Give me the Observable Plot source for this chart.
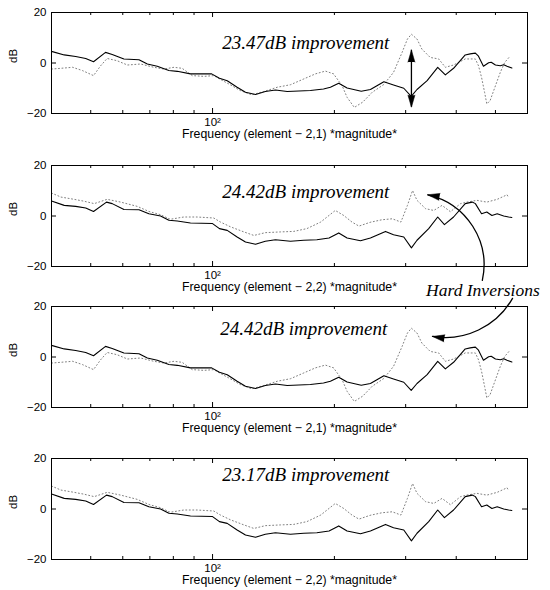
<!DOCTYPE html>
<html><head><meta charset="utf-8">
<script src="https://cdn.jsdelivr.net/npm/d3@7"></script>
<script src="https://cdn.jsdelivr.net/npm/@observablehq/plot@0.6"></script>
<style>
body{margin:0;background:#fff;}
#chart{position:relative;width:550px;height:590px;overflow:hidden;background:#fff;}
#chart svg{position:absolute;left:0;overflow:visible;}
</style></head><body><div id="chart"></div>
<script>
// ---- data: element (2,1) ----
const f21Solid = [40,43,45.9,48.6,50.8,54.4,56.5,60.4,65.8,69,73,78,81.8,88.2,99.5,104,108.7,115,120.6,127.7,135,143,152.9,163.4,174.5,188,195.5,205,215,233,245.5,265,280,296.8,309.6,320,339,360,376,394,421,433,446,454,467,481,488,500,514,524,534,549];
const db21Solid = [4.6,3.2,2.6,1.8,0.5,4.2,3.4,1.6,1.3,-0.4,-1.3,-3.0,-3.3,-4.3,-4.3,-6.0,-7.0,-9.6,-11.6,-12.5,-11.3,-10.7,-11.3,-11.1,-10.9,-10.3,-9.6,-8.0,-9.9,-11.2,-10.5,-7.4,-8.7,-10.0,-13.2,-10.5,-7.0,-1.7,-4.7,-2.1,3.2,3.6,3.9,2.7,-1.3,0.1,0.3,-0.8,-1.1,-0.7,-1.3,-2.0];
const f21Dotted = [40,42.2,45.1,47.7,50.8,52.9,54.9,58.1,61.6,66.4,71.6,75.8,80.3,84.1,89.1,95.2,100.7,104.6,110.8,117,125,133.9,144.5,155.8,168.1,179.6,190,199,209,215,224,235,248,265,280,294,303,310,320,329,345,362,376,394,421,446,454,462,470,476,485,500,514,527,540];
const db21Dotted = [-2.4,-2.1,-1.7,-3.0,-5.0,-1.1,1.8,0.9,-0.8,-0.4,-1.7,-2.4,-1.7,-2.1,-5.0,-5.3,-5.0,-6.5,-8.7,-10.9,-12.6,-11.3,-9.6,-8.6,-6.3,-4.3,-3.2,-4.3,-9.0,-13.6,-17.6,-15.5,-11.6,-8.5,-3.7,4.2,9.5,11.4,9.5,5.5,2.2,1.6,-1.7,-0.8,1.6,1.6,-1.1,-5.7,-11.6,-16.2,-14.9,-9.0,-3.7,0.2,2.2];
// ---- data: element (2,2) ----
const f22Solid = [40,43,45.9,48.6,50.8,54.7,56.5,60.4,65.8,69.6,74.4,78,81.8,88.2,100,104,108.7,115,120.6,127.7,135,143,155.8,168,181,194,205,215,232,245.5,267.5,280,296.8,310,320,342,360,374,394,421,438,446,462,476,490,505,524,539,549];
const db22Solid = [5.9,4.2,3.8,3.2,1.8,5.5,4.9,2.6,2.5,0.9,0,-1.7,-2.0,-2.8,-3.0,-5.0,-5.7,-8.3,-10.3,-11.2,-10.0,-9.4,-10.0,-9.6,-9.4,-8.7,-6.7,-8.7,-9.8,-8.7,-6.1,-7.4,-8.3,-12.6,-9.6,-5.0,-0.4,-3.4,-0.4,4.9,5.5,4.9,0.9,1.6,0.2,0.9,0,-0.4,-0.6];
const f22Dotted = [40,42.2,45.5,48,51,54.9,59.3,65.2,69.6,74.4,78.6,84.9,91.6,100.7,104.6,110.8,119.5,126.5,135,147.2,158.7,171,185,201,211,221,230,245,262,278,292,303,312,320,336,352,369,387,410,425,450,476,505,534,540];
const db22Dotted = [9.1,7.5,6.6,5.9,4.9,6.6,5.5,3.8,1.8,0.5,-1.3,-0.4,-0.4,-0.8,-2.4,-4.3,-6.3,-7.7,-6.6,-6.3,-6.1,-5.0,-2.4,2.2,0.2,-2.4,-4.0,-2.5,-1.5,-1.1,-2.4,4.2,10.1,6.2,2.9,2.2,4.2,1.7,4.9,5.5,6.2,5.5,6.6,8.4,7.1];

// ---- panel texts ----
const panelElements = ["2,1","2,2","2,1","2,2"];
const improvements = ["23.47dB improvement","24.42dB improvement","24.42dB improvement","23.17dB improvement"];
const improvementFreq = [170,170,168,170];
const improvementDb = [8,9.6,11,13.4];
const xDomain = [40,600];
const yDomain = [-20,20];
const xMinorTicks = [50,60,70,80,90,200,300,400,500];
const xMajorTicks = [100];
const xTickLabels = ["10²"];
const yTicks = [-20,0,20];
const yTickLabels = ["−20","0","20"];
const yLabel = "dB";

// ---- annotations ----
const gapArrow = {f: 310, top: 5.1, bottom: -17.5};
const inversionText = {text: "Hard Inversions", f: 337, db: -29.5};
const inversionArrows = [
  {f1: 464, db1: -25.5, f2: 340, db2: 8.4, bend: -45, rot: -80},
  {f1: 551, db1: -32.6, f2: 349.5, db2: -47.7, bend: 35, rot: -81}
];

// ---- layout ----
const svgTops = [0,153,294,446];
const W = 550, mL = 51, mR = 23, mT = 12, mB = 40, frameH = 101;
const H = mT + frameH + mB, frameW = W - mL - mR;
const sans = "Liberation Sans, Arial, Helvetica, sans-serif";
const serif = "Liberation Serif, Times New Roman, serif";

const series = {
  "2,1": {solid: f21Solid.map((f,i)=>({f, db: db21Solid[i]})), dotted: f21Dotted.map((f,i)=>({f, db: db21Dotted[i]}))},
  "2,2": {solid: f22Solid.map((f,i)=>({f, db: db22Solid[i]})), dotted: f22Dotted.map((f,i)=>({f, db: db22Dotted[i]}))}
};

const chart = document.getElementById("chart");
panelElements.forEach((el, p) => {
  const s = series[el];
  const marks = [
    Plot.line(s.dotted, {x: "f", y: "db", stroke: "#808080", strokeWidth: 1, strokeDasharray: "1,2.5"}),
    Plot.line(s.solid, {x: "f", y: "db", stroke: "black", strokeWidth: 1.1}),
    Plot.frame({stroke: "black", strokeWidth: 1}),
    // x ticks, inward, top and bottom
    Plot.ruleX(xMinorTicks, {x: d => d, insetTop: frameH - 3, stroke: "black"}),
    Plot.ruleX(xMinorTicks, {x: d => d, insetBottom: frameH - 3, stroke: "black"}),
    Plot.ruleX(xMajorTicks, {x: d => d, insetTop: frameH - 5, stroke: "black"}),
    Plot.ruleX(xMajorTicks, {x: d => d, insetBottom: frameH - 5, stroke: "black"}),
    // y ticks, inward, left and right
    Plot.ruleY(yTicks, {y: d => d, insetRight: frameW - 5, stroke: "black"}),
    Plot.ruleY(yTicks, {y: d => d, insetLeft: frameW - 5, stroke: "black"}),
    Plot.text(xMajorTicks, {x: d => d, text: (d,i) => xTickLabels[i], frameAnchor: "bottom", dy: 12, fontFamily: sans, fontSize: 11.5, fill: "black"}),
    Plot.text(yTicks, {y: d => d, text: (d,i) => yTickLabels[i], frameAnchor: "left", textAnchor: "end", dx: -5, fontFamily: sans, fontSize: 11.5, fill: "black"}),
    Plot.text([`Frequency (element − ${el}) *magnitude*`], {text: d => d, frameAnchor: "bottom", dy: 24, fontFamily: sans, fontSize: 12.3, fill: "black"}),
    Plot.text([yLabel], {text: d => d, frameAnchor: "left", dx: -38, rotate: -90, fontFamily: sans, fontSize: 11.5, fill: "black"}),
    Plot.text([improvements[p]], {text: d => d, x: () => improvementFreq[p], y: () => improvementDb[p], fontFamily: serif, fontStyle: "italic", fontSize: 19, fill: "black"})
  ];
  if (p === 0) {
    marks.push(
      Plot.ruleX([gapArrow], {x: "f", y1: "top", y2: "bottom", stroke: "black", strokeWidth: 1.3}),
      Plot.vector([gapArrow], {x: "f", y: "top", rotate: 0, length: 12, r: 3.5, shape: "spike", anchor: "end", fill: "black", stroke: "black", strokeWidth: 0.5}),
      Plot.vector([gapArrow], {x: "f", y: "bottom", rotate: 180, length: 12, r: 3.5, shape: "spike", anchor: "end", fill: "black", stroke: "black", strokeWidth: 0.5})
    );
  }
  if (p === 1) {
    marks.push(
      Plot.text([inversionText], {x: "f", y: "db", text: "text", textAnchor: "start", fontFamily: serif, fontStyle: "italic", fontSize: 17.5, fill: "black"}),
      ...inversionArrows.map(a => Plot.arrow([a], {x1: "f1", y1: "db1", x2: "f2", y2: "db2", bend: a.bend, headLength: 0, stroke: "black", strokeWidth: 1.3})),
      Plot.vector(inversionArrows, {x: "f2", y: "db2", rotate: "rot", length: 12, r: 3.5, shape: "spike", anchor: "end", fill: "black", stroke: "black", strokeWidth: 0.5})
    );
  }
  const svg = Plot.plot({
    width: W, height: H,
    marginLeft: mL, marginRight: mR, marginTop: mT, marginBottom: mB,
    x: {type: "log", domain: xDomain, axis: null},
    y: {domain: yDomain, axis: null},
    style: {background: "transparent", overflow: "visible", color: "black"},
    marks
  });
  svg.style.top = svgTops[p] + "px";
  if (p === 1) svg.style.zIndex = 2;
  chart.appendChild(svg);
});
</script></body></html>
